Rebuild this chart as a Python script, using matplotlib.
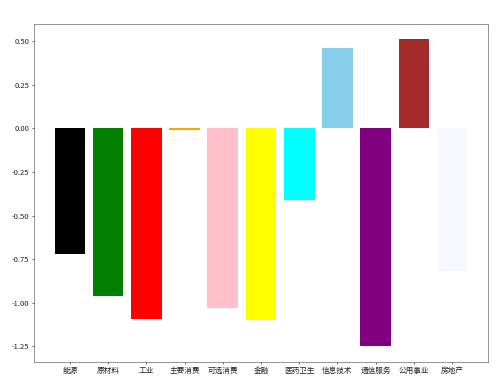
import matplotlib
matplotlib.use('Agg')
import matplotlib.pyplot as plt

plt.rcParams['font.family'] = ['Noto Sans CJK SC', 'DejaVu Sans']
plt.rcParams['axes.unicode_minus'] = False

sectors = ['能源', '原材料', '工业', '主要消费', '可选消费', '金融',
           '医药卫生', '信息技术', '通信服务', '公用事业', '房地产']
values = [-0.72, -0.96, -1.09, -0.01, -1.03, -1.10,
          -0.41, 0.46, -1.25, 0.51, -0.815]
colors = ['black', 'green', 'red', 'orange', 'pink', 'yellow',
          'cyan', 'skyblue', 'purple', 'brown', 'ghostwhite']

fig, ax = plt.subplots(figsize=(10, 7.74), dpi=50)
ax.bar(sectors, values, color=colors)

ax.tick_params(axis='both', labelsize=11, labelcolor='#222222')
for s in ax.spines.values():
    s.set_color('#444444')

plt.subplots_adjust(left=0.068, right=0.976, top=0.938, bottom=0.065)
plt.savefig('out.png')
